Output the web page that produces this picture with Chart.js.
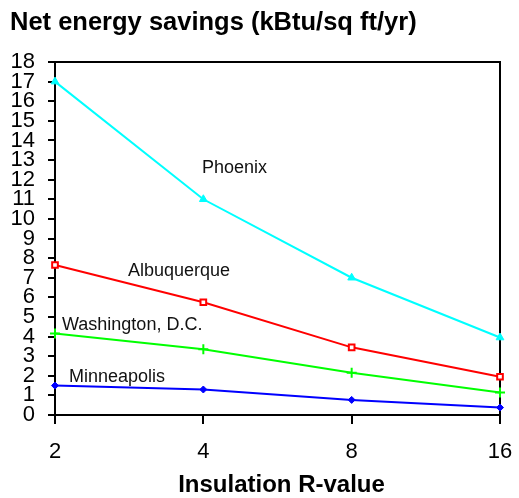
<!DOCTYPE html>
<html><head><meta charset="utf-8">
<script src="https://cdn.jsdelivr.net/npm/chart.js@4/dist/chart.umd.min.js"></script>
<style>html,body{margin:0;padding:0;background:#fff}#wrap{width:519px;height:498px}</style>
</head><body><div id="wrap"><canvas id="c" width="519" height="498"></canvas></div>
<script>
const categories = ['2', '4', '8', '16'];
const phoenix = [17.0, 11.0, 7.0, 3.95];
const albuquerque = [7.65, 5.75, 3.45, 1.95];
const washington = [4.15, 3.35, 2.15, 1.15];
const minneapolis = [1.5, 1.3, 0.77, 0.38];
const yMin = 0, yMax = 18, yStep = 1;
const chartTitle = 'Net energy savings (kBtu/sq ft/yr)';
const xTitle = 'Insulation R-value';
const seriesNames = ['Phoenix', 'Albuquerque', 'Washington, D.C.', 'Minneapolis'];

const FONT = '"Liberation Sans", Arial, Helvetica, sans-serif';

// text label placement (pixels)
const labelPlacement = [
  {x: 202, y: 173},
  {x: 128, y: 276},
  {x: 62, y: 330},
  {x: 69, y: 382}
];

const textPlugin = {
  id: 'texts',
  beforeDatasetsDraw(chart) {
    const {ctx, chartArea: a} = chart;
    ctx.save();
    ctx.strokeStyle = '#000';
    ctx.lineWidth = 2;
    ctx.beginPath();
    ctx.moveTo(a.left, a.top);
    ctx.lineTo(a.right, a.top);
    ctx.lineTo(a.right, a.bottom);
    ctx.stroke();
    ctx.restore();
  },
  afterDraw(chart) {
    const {ctx, chartArea: a} = chart;
    ctx.save();
    ctx.fillStyle = '#000';
    ctx.textBaseline = 'alphabetic';
    ctx.textAlign = 'left';
    ctx.font = 'bold 25.5px ' + FONT;
    ctx.fillText(chartTitle, 10, 30);
    ctx.textAlign = 'center';
    ctx.font = 'bold 24px ' + FONT;
    ctx.fillText(xTitle, (a.left + a.right) / 2 + 4, 492);
    ctx.textAlign = 'left';
    ctx.fillStyle = '#111';
    ctx.font = '18px ' + FONT;
    seriesNames.forEach((n, i) => ctx.fillText(n, labelPlacement[i].x, labelPlacement[i].y));
    ctx.restore();
  }
};

new Chart(document.getElementById('c'), {
  type: 'line',
  data: {
    labels: categories,
    datasets: [
      {label: seriesNames[0], data: phoenix, borderColor: '#00FFFF', backgroundColor: '#00FFFF',
       pointStyle: 'triangle', pointRadius: 4.5, borderWidth: 2, pointBorderWidth: 1},
      {label: seriesNames[1], data: albuquerque, borderColor: '#FF0000', backgroundColor: '#FFFFFF',
       pointBorderColor: '#FF0000', pointStyle: 'rect', pointRadius: 4, borderWidth: 2, pointBorderWidth: 2},
      {label: seriesNames[2], data: washington, borderColor: '#00FF00', backgroundColor: '#00FF00',
       pointStyle: 'cross', pointRadius: 5, borderWidth: 2, pointBorderWidth: 2},
      {label: seriesNames[3], data: minneapolis, borderColor: '#0000FF', backgroundColor: '#0000FF',
       pointStyle: 'rectRot', pointRadius: 3.5, borderWidth: 2, pointBorderWidth: 1}
    ].map(d => Object.assign(d, {fill: false, tension: 0, clip: false}))
  },
  options: {
    responsive: false,
    animation: false,
    devicePixelRatio: 1,
    layout: {padding: {top: 62, right: 19, bottom: 0, left: 0}},
    plugins: {legend: {display: false}, tooltip: {enabled: false}, title: {display: false}},
    scales: {
      x: {
        type: 'category',
        offset: false,
        grid: {display: true, drawOnChartArea: false, drawTicks: true, tickLength: 24, color: '#000', lineWidth: 2,
               tickBorderDash: [8, 200], tickBorderDashOffset: 0},
        border: {display: true, color: '#000', width: 2},
        ticks: {color: '#000', font: {family: FONT, size: 22}, padding: 0, maxRotation: 0, autoSkip: false},
        afterFit(s) { s.height = 83; }
      },
      y: {
        min: yMin, max: yMax,
        grid: {display: true, drawOnChartArea: false, drawTicks: true, tickLength: 7, color: '#000', lineWidth: 2},
        border: {display: true, color: '#000', width: 2},
        ticks: {stepSize: yStep, autoSkip: false, color: '#000', font: {family: FONT, size: 22, lineHeight: 1}, padding: 13},
        afterFit(s) { s.width = 55; }
      }
    }
  },
  plugins: [textPlugin]
});
</script></body></html>
